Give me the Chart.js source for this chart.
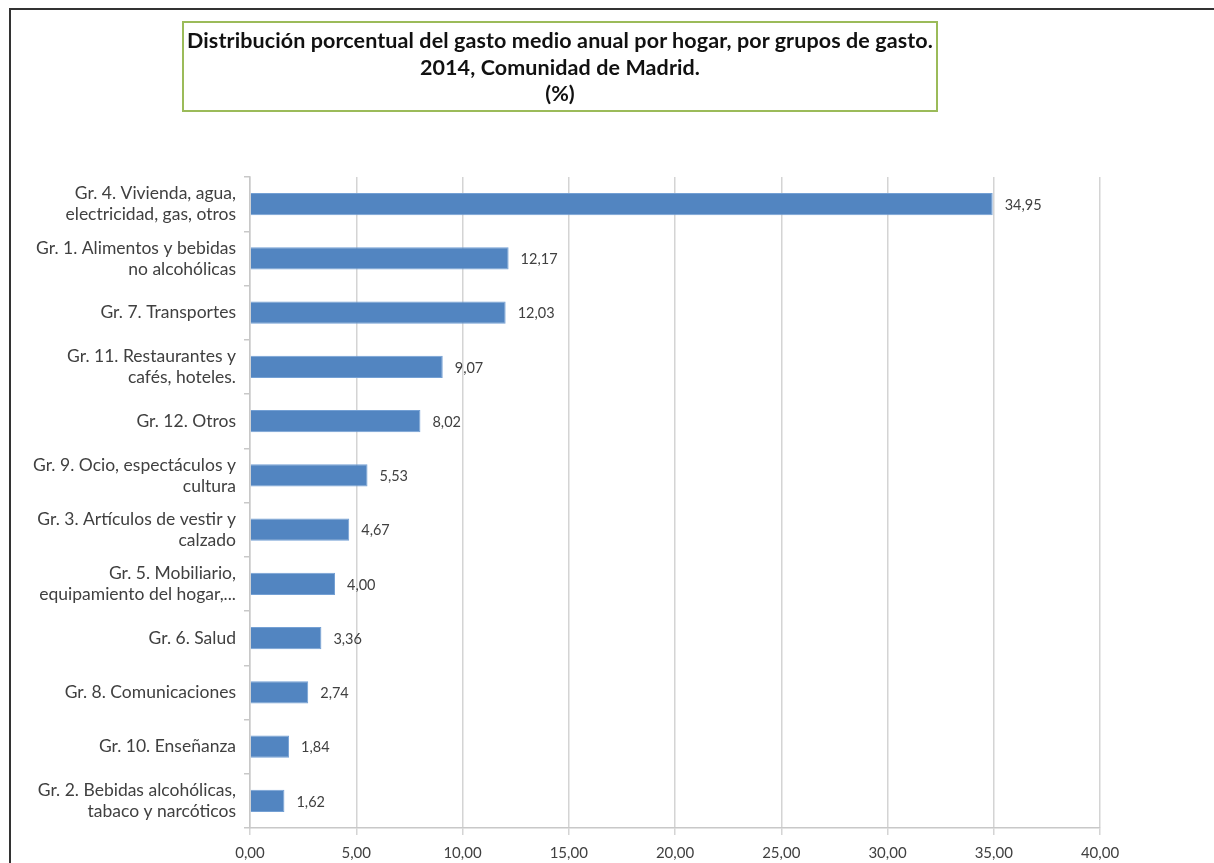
<!DOCTYPE html>
<html>
<head>
<meta charset="utf-8">
<script src="https://cdn.jsdelivr.net/npm/chart.js@4.4.1/dist/chart.umd.min.js"></script>
<style>
html,body{margin:0;padding:0;background:#fff;}
#wrap{position:relative;width:1214px;height:863px;overflow:hidden;}
#frame{position:absolute;left:9px;top:8px;width:1220px;height:900px;border:2px solid #333;box-sizing:border-box;}
#title{position:absolute;left:182px;top:21px;width:756px;height:91px;border:2px solid #9bbb59;box-sizing:border-box;
font-family:Lato,"Open Sans",sans-serif;font-weight:bold;font-size:21.5px;color:#111;text-align:center;line-height:26.5px;padding-top:4px;white-space:nowrap;letter-spacing:0.1px;}
canvas{position:absolute;left:0;top:0;}
</style>
</head>
<body>
<div id="wrap">
<div id="frame"></div>
<canvas id="chart" width="1214" height="863"></canvas>
<div id="title">Distribución porcentual del gasto medio anual por hogar, por grupos de gasto.<br>2014, Comunidad de Madrid.<br>(%)</div>
</div>
<script>
// DATA
const categories=[
["Gr. 4. Vivienda, agua,","electricidad, gas, otros"],
["Gr. 1. Alimentos y bebidas","no alcohólicas"],
"Gr. 7. Transportes",
["Gr. 11. Restaurantes y","cafés, hoteles."],
"Gr. 12. Otros",
["Gr. 9. Ocio, espectáculos y","cultura"],
["Gr. 3. Artículos de vestir y","calzado"],
["Gr. 5. Mobiliario,","equipamiento del hogar,..."],
"Gr. 6. Salud",
"Gr. 8. Comunicaciones",
"Gr. 10. Enseñanza",
["Gr. 2. Bebidas alcohólicas,","tabaco y narcóticos"]
];
const values=[34.95,12.17,12.03,9.07,8.02,5.53,4.67,4.00,3.36,2.74,1.84,1.62];

const fmt=v=>v.toFixed(2).replace(".",",");

// VALUE LABELS
const valueLabels={
id:"valueLabels",
afterDatasetsDraw(chart){
const ctx=chart.ctx;
const meta=chart.getDatasetMeta(0);
ctx.save();
ctx.font="14.5px Lato, 'Open Sans', sans-serif";
ctx.fillStyle="#404040";
ctx.textBaseline="middle";
ctx.textAlign="left";
meta.data.forEach((bar,i)=>{
ctx.fillText(fmt(values[i]),bar.x+12,bar.y+1);
});
ctx.restore();
}
};

new Chart(document.getElementById("chart"),{
type:"bar",
data:{labels:categories,datasets:[{
data:values,
backgroundColor:"#5285c1",
borderColor:"#74a0d4",
borderWidth:1,
barPercentage:0.82,
categoryPercentage:0.5
}]},
options:{
indexAxis:"y",
responsive:false,
animation:false,
layout:{padding:{left:12,top:177,right:114,bottom:0}},
plugins:{legend:{display:false},tooltip:{enabled:false}},
scales:{
x:{
min:0,max:40,
ticks:{stepSize:5,callback:v=>fmt(v),color:"#404040",font:{family:"Lato","size":15},padding:9},
grid:{color:"#d4d4d4",lineWidth:1.5,tickLength:7},
border:{color:"#c8c8c8",width:1.5},
afterFit(s){s.height=35;}
},
y:{
ticks:{color:"#404040",font:{family:"Lato",size:17.5,lineHeight:1.2},padding:8,autoSkip:false},
grid:{offset:true,drawOnChartArea:false,tickLength:6,color:"#c8c8c8",lineWidth:1.5},
border:{color:"#c8c8c8",width:1.5},
afterFit(s){s.width=238;}
}
}
},
plugins:[valueLabels]
});
</script>
</body>
</html>
